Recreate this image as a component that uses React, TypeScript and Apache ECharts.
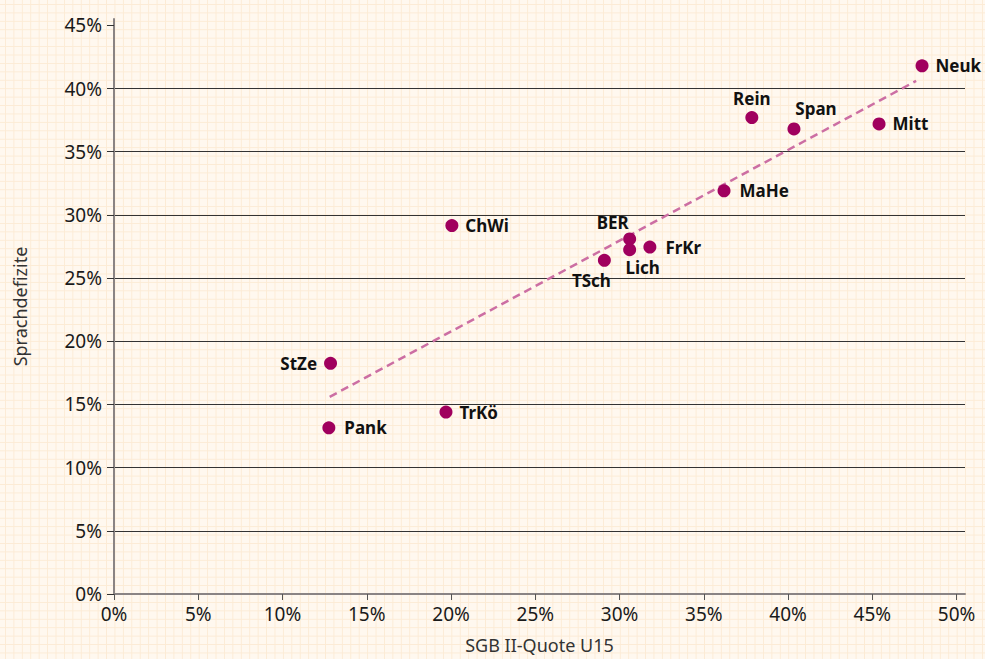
import React, { useEffect, useRef } from "react";
import * as echarts from "echarts";

const names = ["Neuk", "Rein", "Span", "Mitt", "MaHe", "ChWi", "BER", "Lich", "FrKr", "TSch", "StZe", "TrKö", "Pank"];
const sgbQuote = [47.95, 37.85, 40.35, 45.4, 36.2, 20.05, 30.6, 30.6, 31.8, 29.1, 12.85, 19.7, 12.75];
const sprachdefizite = [41.8, 37.7, 36.8, 37.2, 31.9, 29.15, 28.1, 27.25, 27.45, 26.4, 18.25, 14.4, 13.15];
const trendX = [12.8, 47.6];
const trendY = [15.6, 40.6];
const tickValues = [0, 5, 10, 15, 20, 25, 30, 35, 40, 45, 50];
const yTickValues = [0, 5, 10, 15, 20, 25, 30, 35, 40, 45];

type LabelCfg = { position: string; distance?: number; offset?: number[] };
const labelCfg: Record<string, LabelCfg> = {
  Neuk: { position: "right", distance: 7 },
  Rein: { position: "top", distance: 4 },
  Span: { position: "top", distance: 3, offset: [22, -2] },
  Mitt: { position: "right", distance: 7 },
  MaHe: { position: "right", distance: 9 },
  ChWi: { position: "right", distance: 7 },
  BER: { position: "top", distance: 1, offset: [-17, 0] },
  Lich: { position: "bottom", distance: 3, offset: [13, 0] },
  FrKr: { position: "right", distance: 9 },
  TSch: { position: "bottom", distance: 5, offset: [-13, 0] },
  StZe: { position: "left", distance: 7 },
  TrKö: { position: "right", distance: 7 },
  Pank: { position: "right", distance: 9 },
};

const FONT = "'Noto Sans', sans-serif";

export default function App() {
  const ref = useRef<HTMLDivElement>(null);
  useEffect(() => {
    if (!ref.current) return;
    const chart = echarts.init(ref.current, undefined, { renderer: "svg" });
    const points = names.map((n, i) => ({
      name: n,
      value: [sgbQuote[i], sprachdefizite[i]],
      label: { show: true, ...labelCfg[n] },
    }));
    chart.setOption({
      animation: false,
      backgroundColor: "transparent",
      textStyle: { fontFamily: FONT },
      grid: { left: 114, top: 19, right: 20, bottom: 63 },
      xAxis: {
        type: "value",
        min: 0,
        max: 50.5,
        interval: 5,
        name: "SGB II-Quote U15",
        nameLocation: "middle",
        nameGap: 42,
        nameTextStyle: { fontSize: 18, color: "#333", fontFamily: FONT },
        axisLine: { show: true, lineStyle: { color: "#8a8484", width: 2 } },
        axisTick: { show: true, length: 6, customValues: tickValues, lineStyle: { color: "#555", width: 1 } },
        axisLabel: {
          customValues: tickValues,
          formatter: (v: number) => v + "%",
          fontSize: 19,
          color: "#1a1a1a",
          margin: 10,
          fontFamily: FONT,
        },
        splitLine: { show: false },
      },
      yAxis: {
        type: "value",
        min: 0,
        max: 45.5,
        interval: 5,
        name: "Sprachdefizite",
        nameLocation: "middle",
        nameGap: 85,
        nameTextStyle: { fontSize: 18, color: "#333", fontFamily: FONT },
        axisLine: { show: true, lineStyle: { color: "#8a8484", width: 2 } },
        axisTick: { show: true, length: 7, customValues: yTickValues, lineStyle: { color: "#333", width: 1 } },
        axisLabel: {
          customValues: yTickValues,
          formatter: (v: number) => v + "%",
          fontSize: 19,
          color: "#1a1a1a",
          margin: 12,
          fontFamily: FONT,
        },
        splitLine: {
          show: true,
          showMinLine: false,
          showMaxLine: false,
          lineStyle: { color: "#333", width: 1 },
        },
      },
      series: [
        {
          type: "line",
          data: trendX.map((x, i) => [x, trendY[i]]),
          symbol: "none",
          silent: true,
          lineStyle: { color: "#cc6ea3", width: 2.5, type: [8, 5] },
          z: 1,
        },
        {
          type: "scatter",
          data: points,
          symbolSize: 13,
          itemStyle: { color: "#a0005e", opacity: 1 },
          label: {
            show: true,
            formatter: "{b}",
            fontSize: 17,
            fontWeight: "bold",
            color: "#111",
            fontFamily: FONT,
          },
          z: 3,
        },
      ],
    });
    return () => chart.dispose();
  }, []);
  return (
    <div
      style={{
        position: "absolute",
        left: 0,
        top: 0,
        width: 985,
        height: 659,
        backgroundColor: "#fff8ef",
        backgroundImage:
          "linear-gradient(to right, #fcebd5 1px, transparent 1px), linear-gradient(to bottom, #fcebd5 1px, transparent 1px)",
        backgroundSize: "8.43px 8.43px",
        backgroundPosition: "5px 4px",
      }}
    >
      <div ref={ref} style={{ width: 985, height: 659 }} />
    </div>
  );
}
